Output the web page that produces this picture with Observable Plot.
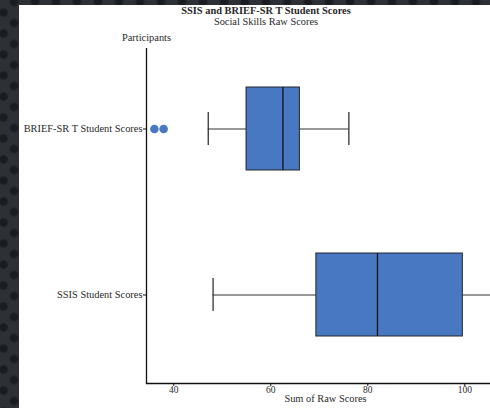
<!DOCTYPE html>
<html>
<head>
<meta charset="utf-8">
<script src="https://cdn.jsdelivr.net/npm/d3@7"></script>
<script src="https://cdn.jsdelivr.net/npm/@observablehq/plot@0.6"></script>
<style>
  html, body { margin: 0; padding: 0; width: 490px; height: 408px; overflow: hidden; }
  body {
    background-color: #2d3035;
    background-image:
      radial-gradient(circle at center, #1a1c20 3.2px, rgba(26,28,32,0) 5.2px),
      radial-gradient(circle at center, #1a1c20 3.2px, rgba(26,28,32,0) 5.2px);
    background-size: 21px 21px, 21px 21px;
    background-position: 3.5px -8.5px, -7px 2px;
  }
  #chart {
    position: absolute; left: 19px; top: 5px; width: 494px; height: 403px;
    background: white; font-family: "Liberation Serif", serif; color: #2a2a2a;
  }
  .title { font-weight: bold; font-size: 10.4px; line-height: 11px; text-align: center; height: 11px; }
  .subtitle { font-size: 10.4px; line-height: 11px; text-align: center; height: 11px; }
</style>
</head>
<body>
<div id="chart">
  <div class="title">SSIS and BRIEF-SR T Student Scores</div>
  <div class="subtitle">Social Skills Raw Scores</div>
</div>
<script>
// Data
const categories = ["BRIEF-SR T Student Scores", "SSIS Student Scores"];
const whiskerLow = [47.1, 48.1];
const quartile1 = [55.0, 69.4];
const medians = [62.5, 82.0];
const quartile3 = [66.0, 99.6];
const whiskerHigh = [76.1, 112];
const outlierCategory = ["BRIEF-SR T Student Scores", "BRIEF-SR T Student Scores"];
const outlierValues = [36.0, 37.9];
const xTicks = [40, 60, 80, 100];
const xDomain = [34.37, 108.19];

const rows = categories.map((c, i) => ({
  cat: c, lo: whiskerLow[i], q1: quartile1[i], med: medians[i], q3: quartile3[i], hi: whiskerHigh[i]
}));
const outliers = outlierValues.map((v, i) => ({cat: outlierCategory[i], v}));

const fillBlue = "#4878c2";
const ink = "#2a2a2a";

const plot = Plot.plot({
  width: 485,
  height: 381,
  marginLeft: 127,
  marginRight: 0,
  marginTop: 21,
  marginBottom: 25,
  style: {fontFamily: "Liberation Serif", fontSize: "10.4px", color: ink, background: "white"},
  x: {domain: xDomain, ticks: xTicks, label: null},
  y: {domain: categories, paddingInner: 0.5, paddingOuter: 0.25, insetTop: -3, insetBottom: 6, label: null},
  marks: [
    Plot.ruleY(rows, {y: "cat", x1: "lo", x2: "q1", stroke: "#333", strokeWidth: 1, clip: true}),
    Plot.ruleY(rows, {y: "cat", x1: "q3", x2: "hi", stroke: "#333", strokeWidth: 1, clip: true}),
    Plot.tickX(rows, {x: "lo", y: "cat", insetTop: 25, insetBottom: 25, stroke: "#222", strokeWidth: 1.2, clip: true}),
    Plot.tickX(rows, {x: "hi", y: "cat", insetTop: 25, insetBottom: 25, stroke: "#222", strokeWidth: 1.2, clip: true}),
    Plot.barX(rows, {y: "cat", x1: "q1", x2: "q3", fill: fillBlue, stroke: "#22262c", strokeWidth: 1}),
    Plot.tickX(rows, {x: "med", y: "cat", stroke: "#111", strokeWidth: 1.3}),
    Plot.dot(outliers, {x: "v", y: "cat", r: 4.3, fill: fillBlue, stroke: "none"}),
    Plot.ruleX([xDomain[0]], {stroke: "#111", strokeWidth: 1.3}),
    Plot.frame({anchor: "bottom", stroke: "#111", strokeWidth: 1.3}),
    Plot.axisX({ticks: xTicks, tickSize: 3, tickPadding: 0, fontSize: 9.5, label: null, stroke: "#111"}),
    Plot.axisY({tickSize: 3, tickPadding: 1, label: null, stroke: "#111"}),
    Plot.text(["Participants"], {frameAnchor: "top-left", dy: -15, textAnchor: "middle", fill: ink}),
    Plot.text(["Sum of Raw Scores"], {frameAnchor: "bottom", dy: 18.7, fill: ink})
  ]
});
plot.style.display = "block";
document.getElementById("chart").appendChild(plot);
</script>
</body>
</html>
